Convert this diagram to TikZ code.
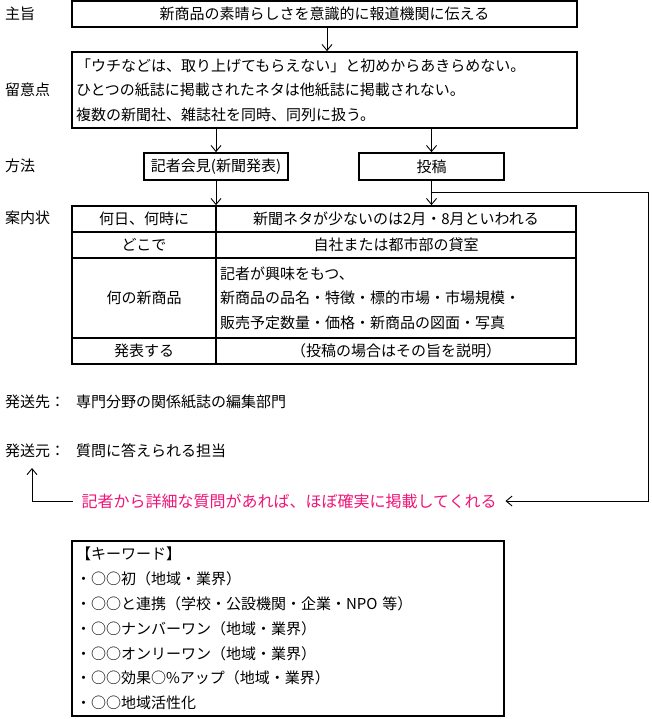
\documentclass[tikz,border=0pt]{standalone}
\usepackage{fontspec}
\setmainfont{Noto Sans CJK JP}
\usetikzlibrary{arrows.meta}
\definecolor{pinktext}{RGB}{240,20,120}
\begin{document}
\begin{tikzpicture}[x=1pt,y=-1pt,
  font=\fontsize{15pt}{24.5pt}\selectfont,
  framebox/.style={draw,line width=1.7pt,inner sep=0pt},
  lbl/.style={anchor=west,inner sep=0pt},
  arr/.style={-{Straight Barb[length=6pt,width=10pt]},line width=0.9pt}]
\useasboundingbox (0,0) rectangle (651,719);
% left labels
\node[lbl] (lGoal) at (5,14) {主旨};
\node[lbl] (lNote) at (5,90) {留意点};
\node[lbl] (lMeth) at (5,166) {方法};
\node[lbl] (lInv) at (5,218) {案内状};
\node[lbl] (lDest) at (5,402) {発送先：};
\node[lbl] (tDest) at (76,402) {専門分野の関係紙誌の編集部門};
\node[lbl] (lSrc) at (5,451) {発送元：};
\node[lbl] (tSrc) at (76,451) {質問に答えられる担当};
% boxes
\node[framebox,minimum width=505pt,minimum height=26pt] (goal) at (324.5,14) {新商品の素晴らしさを意識的に報道機関に伝える};
\node[framebox,minimum width=505pt,minimum height=76pt,text width=497pt,inner xsep=4pt,align=left] (note) at (324.5,90)
 {「ウチなどは、取り上げてもらえない」と初めからあきらめない。\\ひとつの紙誌に掲載されたネタは他紙誌に掲載されない。\\複数の新聞社、雑誌社を同時、同列に扱う。};
\node[framebox,minimum width=144pt,minimum height=27pt] (kisha) at (216,166.5) {記者会見(新聞発表)};
\node[framebox,minimum width=145pt,minimum height=27pt] (toko) at (431.5,166.5) {投稿};
% table
\node[framebox,minimum width=144pt,minimum height=26pt] (r1L) at (144,219) {何日、何時に};
\node[framebox,minimum width=360pt,minimum height=26pt] (r1R) at (396,219) {新聞ネタが少ないのは2月・8月といわれる};
\node[framebox,minimum width=144pt,minimum height=26pt] (r2L) at (144,245) {どこで};
\node[framebox,minimum width=360pt,minimum height=26pt] (r2R) at (396,245) {自社または都市部の貸室};
\node[framebox,minimum width=144pt,minimum height=80pt] (r3L) at (144,298) {何の新商品};
\node[framebox,minimum width=360pt,minimum height=80pt,text width=352pt,inner xsep=4pt,align=left] (r3R) at (396,298)
 {記者が興味をもつ、\\新商品の品名・特徴・標的市場・市場規模・\\販売予定数量・価格・新商品の図面・写真};
\node[framebox,minimum width=144pt,minimum height=26pt] (r4L) at (144,351) {発表する};
\node[framebox,minimum width=360pt,minimum height=26pt] (r4R) at (396,351) {（投稿の場合はその旨を説明）};
% pink note
\node[anchor=west,inner xsep=8.5pt,inner ysep=0pt,text=pinktext,font=\fontsize{16pt}{20pt}\selectfont] (pink) at (73,501)
 {記者から詳細な質問があれば、ほぼ確実に掲載してくれる};
% keyword box
\node[framebox,minimum width=432pt,minimum height=175pt,text width=424pt,inner xsep=4pt,align=left,
  font=\fontsize{15pt}{24.8pt}\selectfont] (kw) at (288,628.5)
 {【キーワード】\\・○○初（地域・業界）\\・○○と連携（学校・公設機関・企業・NPO 等）\\・○○ナンバーワン（地域・業界）\\・○○オンリーワン（地域・業界）\\・○○効果○\%アップ（地域・業界）\\・○○地域活性化};
% connectors
\draw[arr] ([xshift=2.5pt]goal.south) -- ([xshift=2.5pt]note.north);
\draw[arr] (kisha.north |- note.south) -- (kisha.north);
\draw[arr] (toko.north |- note.south) -- (toko.north);
\draw[arr] (kisha.south) -- (kisha.south |- r1L.north);
\draw[arr] (toko.south) -- (toko.south |- r1R.north);
\coordinate (fbTurn) at (648,192);
\draw[arr] (toko.south |- fbTurn) -- (fbTurn) |- (pink.east);
\coordinate (upTip) at (32,468);
\draw[arr] (pink.west) -| (upTip);
\end{tikzpicture}
\end{document}
